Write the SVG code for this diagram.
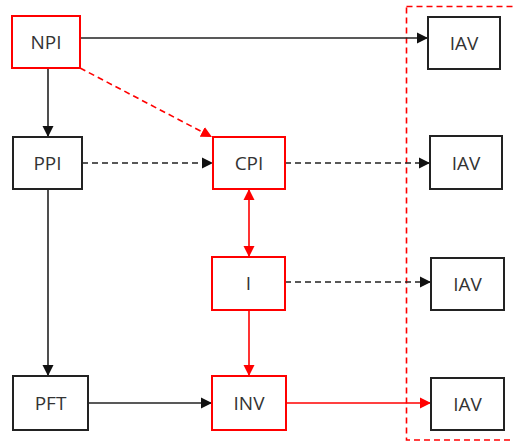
<svg xmlns="http://www.w3.org/2000/svg" width="513" height="442" viewBox="0 0 513 442">
<style>
.box{fill:#fff;stroke-width:2}
.blk{stroke:#222}
.red{stroke:#ff0000}
.lbl{font-family:"Open Sans","Liberation Sans",sans-serif;font-size:19px;fill:#333;text-anchor:middle}
.ln{fill:none;stroke-width:1.6}
.dash{stroke-dasharray:6 4}
</style>
<defs>
<marker id="ab" markerUnits="userSpaceOnUse" markerWidth="12" markerHeight="12" refX="11" refY="6" orient="auto-start-reverse"><path d="M0,0.5 L11,6 L0,11.5 z" fill="#111"/></marker>
<marker id="ar" markerUnits="userSpaceOnUse" markerWidth="12" markerHeight="12" refX="11" refY="6" orient="auto-start-reverse"><path d="M0,0.5 L11,6 L0,11.5 z" fill="#ff0000"/></marker>
</defs>
<rect x="406.5" y="6.5" width="130" height="433.5" fill="none" stroke="#ff0000" stroke-width="1.6" stroke-dasharray="6 4"/>
<g id="connectors">
<line class="ln blk" x1="80" y1="38" x2="428" y2="38" marker-end="url(#ab)"/>
<line class="ln blk" x1="48" y1="68" x2="48" y2="137" marker-end="url(#ab)"/>
<line class="ln red dash" x1="80" y1="68" x2="212" y2="137" marker-end="url(#ar)"/>
<line class="ln blk dash" x1="82" y1="163" x2="213" y2="163" marker-end="url(#ab)"/>
<line class="ln blk dash" x1="285" y1="163" x2="430" y2="163" marker-end="url(#ab)"/>
<line class="ln red" x1="249" y1="189" x2="249" y2="257" marker-start="url(#ar)" marker-end="url(#ar)"/>
<line class="ln blk dash" x1="285" y1="282" x2="431" y2="282" marker-end="url(#ab)"/>
<line class="ln red" x1="249" y1="310" x2="249" y2="376" marker-end="url(#ar)"/>
<line class="ln blk" x1="48" y1="189" x2="48" y2="376" marker-end="url(#ab)"/>
<line class="ln blk" x1="88" y1="403" x2="212" y2="403" marker-end="url(#ab)"/>
<line class="ln red" x1="286" y1="403" x2="431" y2="403" marker-end="url(#ar)"/>
</g>
<g id="NPI"><rect class="box red" x="12" y="16" width="68" height="52"/><text class="lbl" x="46" y="49">NPI</text></g>
<g id="PPI"><rect class="box blk" x="13" y="137" width="69" height="52"/><text class="lbl" x="47.5" y="170">PPI</text></g>
<g id="CPI"><rect class="box red" x="213" y="137" width="72" height="52"/><text class="lbl" x="249" y="170">CPI</text></g>
<g id="I"><rect class="box red" x="212" y="257" width="73" height="53"/><text class="lbl" x="248.5" y="290">I</text></g>
<g id="PFT"><rect class="box blk" x="13" y="376" width="75" height="54"/><text class="lbl" x="50.5" y="410">PFT</text></g>
<g id="INV"><rect class="box red" x="212" y="376" width="74" height="54"/><text class="lbl" x="249" y="410">INV</text></g>
<g id="IAV1"><rect class="box blk" x="428" y="17" width="72" height="52"/><text class="lbl" x="464" y="50">IAV</text></g>
<g id="IAV2"><rect class="box blk" x="430" y="136" width="72" height="53"/><text class="lbl" x="466" y="170">IAV</text></g>
<g id="IAV3"><rect class="box blk" x="431" y="258" width="73" height="52"/><text class="lbl" x="467.5" y="291">IAV</text></g>
<g id="IAV4"><rect class="box blk" x="431" y="378" width="73" height="52"/><text class="lbl" x="467.5" y="411">IAV</text></g>
</svg>
